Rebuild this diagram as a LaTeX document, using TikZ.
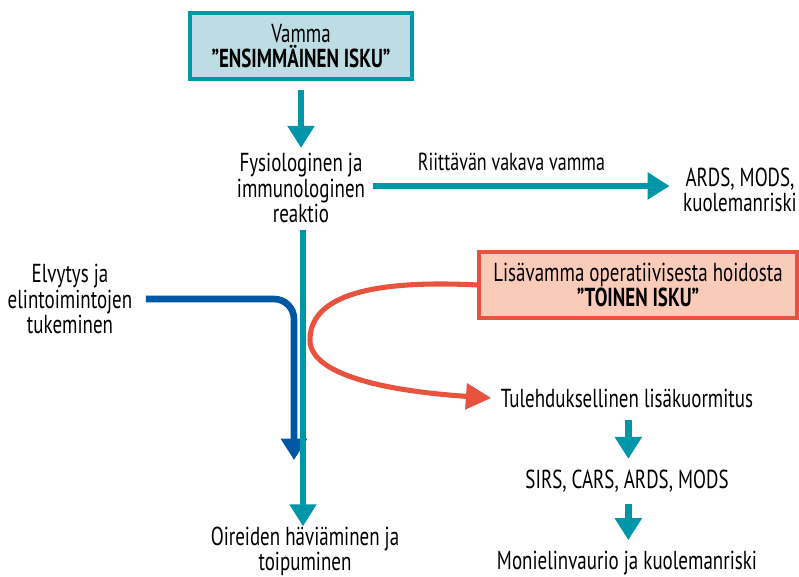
\documentclass[tikz,border=0pt]{standalone}
\usepackage{fontspec}
\setmainfont{PT Sans}[FakeStretch=0.73]
\usetikzlibrary{arrows.meta}
\definecolor{teal1}{HTML}{0096AA}
\definecolor{dblue}{HTML}{0057A4}
\definecolor{redc}{HTML}{E8523F}
\definecolor{lblue}{HTML}{BDDDE4}
\definecolor{salmon}{HTML}{FACBB8}
\begin{document}
\begin{tikzpicture}[x=0.75pt,y=-0.75pt,
  txt/.style={inner sep=0pt,align=center,font=\fontsize{19.5}{18.9}\selectfont},
  lbl/.style={inner sep=0pt,align=center,font=\fontsize{18.5}{18.9}\selectfont},
  box1/.style={txt,draw=teal1,fill=lblue,line width=2.3pt,minimum width=222*0.75pt,minimum height=66*0.75pt},
  box2/.style={txt,draw=redc,fill=salmon,line width=2.3pt,minimum width=318*0.75pt,minimum height=66*0.75pt},
  tarrow/.style={draw=teal1,line width=4.8pt,-{Triangle[width=19.5pt,length=16.5pt]}},
  tline/.style={draw=teal1,line width=3.8pt,-{Triangle[width=19.5pt,length=16.5pt]}},
  barrow/.style={draw=dblue,line width=5pt,rounded corners=15pt,-{Triangle[width=19pt,length=16pt]}},
  rarrow/.style={draw=redc,line width=3.8pt,-{Triangle[width=19pt,length=19pt]}}]
\useasboundingbox (0,0) rectangle (799,577);
% nodes
\node[box1] (v) at (301,46) {Vamma\\\textbf{”ENSIMMÄINEN ISKU”}};
\node[txt] (fys) at (301,188) {Fysiologinen ja\\immunologinen\\reaktio};
\node[txt] (ards) at (740,190) {ARDS, MODS,\\kuolemanriski};
\node[txt] (elv) at (70,299) {Elvytys ja\\elintoimintojen\\tukeminen};
\node[box2] (red) at (638,285) {Lisävamma operatiivisesta hoidosta\\\textbf{”TOINEN ISKU”}};
\node[txt] (tul) at (627,398) {Tulehduksellinen lisäkuormitus};
\node[txt] (sirs) at (627,481) {SIRS, CARS, ARDS, MODS};
\node[txt] (mon) at (627,563) {Monielinvaurio ja kuolemanriski};
\node[txt] (oir) at (305,551) {Oireiden häviäminen ja\\toipuminen};
\coordinate (bt) at (294,460);
\coordinate (ttop) at (303,230);
% connectors
\draw[tarrow,shorten <=7pt,shorten >=4pt] (v.south) -- (fys.north);
\draw[tarrow,shorten <=6pt,shorten >=10pt] ([yshift=1.5pt]fys.east) -- ([yshift=1.5pt]fys.east -| ards.west)
  node[lbl,pos=0.46,above=9pt] {Riittävän vakava vamma};
\draw[barrow,shorten <=10pt] (elv.east) -| (bt);
\draw[tline] (ttop) -- (ttop |- oir.north) ;
\draw[rarrow] (red.west) .. controls (360,279) and (310,300) .. (310,340)
  .. controls (310,378) and (400,392) .. ([xshift=-7pt]tul.west);
\draw[tarrow,shorten <=9pt,shorten >=8pt] ([xshift=1pt]tul.south) -- ([xshift=1pt]sirs.north);
\draw[tarrow,shorten <=9pt,shorten >=8pt] ([xshift=1pt]sirs.south) -- ([xshift=1pt]mon.north);
\end{tikzpicture}
\end{document}
